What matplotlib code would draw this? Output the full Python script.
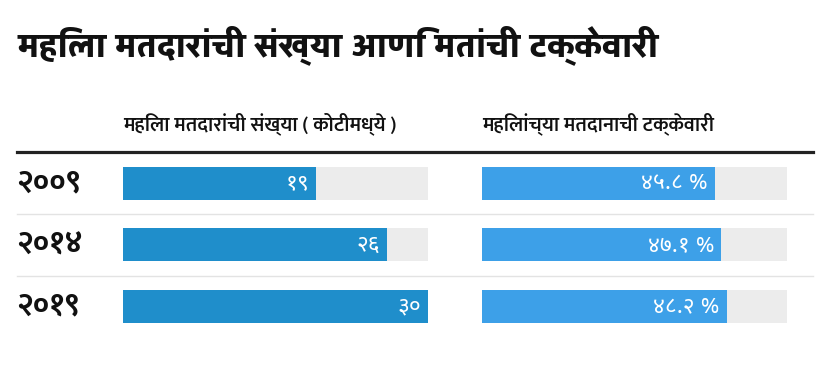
import matplotlib
matplotlib.use('Agg')
import matplotlib.pyplot as plt
from matplotlib.lines import Line2D
from matplotlib import transforms

years = ['२००९', '२०१४', '२०१९']
voters = [19, 26, 30]          # महिला मतदार (कोटी)
turnout = [45.8, 47.1, 48.2]   # मतदानाची टक्केवारी

title = 'महिला मतदारांची संख्या आणि मतांची टक्केवारी'
head_left = 'महिला मतदारांची संख्या ( कोटीमध्ये )'
head_right = 'महिलांच्या मतदानाची टक्केवारी'

deva = str.maketrans('0123456789', '०१२३४५६७८९')

W, H = 830, 370
fig = plt.figure(figsize=(W / 100, H / 100), dpi=100)
fig.patch.set_facecolor('white')

def fx(px):
    return px / W

def fy(px):
    return 1 - px / H

# bar panels
bot, top = fy(337), fy(152.5)
axl = fig.add_axes([fx(123), bot, fx(305), top - bot])
axr = fig.add_axes([fx(482), bot, fx(305), top - bot])

ypos = list(range(len(years)))
bh = 33 / 61.5

for ax, vals, vmax, col, fmt in [
        (axl, voters, 30, '#1f8ecb', lambda v: '%d' % v),
        (axr, turnout, 60, '#3da0e8', lambda v: '%.1f %%' % v)]:
    ax.barh(ypos, [vmax] * len(vals), height=bh, color='#ececec', zorder=1)
    ax.barh(ypos, vals, height=bh, color=col, zorder=2)
    for i, v in enumerate(vals):
        ax.annotate(fmt(v).translate(deva), (v, i), xytext=(-5, 0),
                    textcoords='offset points', ha='right', va='center',
                    color='white', fontsize=16.5,
                    family=['Noto Sans Devanagari', 'DejaVu Sans'], zorder=3)
    ax.set_xlim(0, vmax)
    ax.set_ylim(len(vals) - 0.5, -0.5)
    ax.axis('off')

# year labels
tr = transforms.blended_transform_factory(fig.transFigure, axl.transData)
for i, y in enumerate(years):
    axl.text(fx(16), i, y, transform=tr, ha='left', va='center',
             fontsize=22, weight='bold', family=['Mukta', 'DejaVu Sans'],
             color='#111111', clip_on=False)

# rules
fig.add_artist(Line2D([fx(17), fx(813)], [fy(152), fy(152)],
                      transform=fig.transFigure, color='#222222', lw=2.3))
for py in [214, 275.5]:
    fig.add_artist(Line2D([fx(17), fx(813)], [fy(py), fy(py)],
                          transform=fig.transFigure, color='#e3e3e3', lw=1))

# titles
fig.text(fx(17), fy(45), title, ha='left', va='center', fontsize=25,
         weight=900, family=['Yantramanav', 'DejaVu Sans'], color='#111111')
fig.text(fx(123), fy(124), head_left, ha='left', va='center', fontsize=14.5,
         weight='semibold', family=['Mukta', 'DejaVu Sans'], color='#111111')
fig.text(fx(482), fy(124), head_right, ha='left', va='center', fontsize=14.5,
         weight='semibold', family=['Mukta', 'DejaVu Sans'], color='#111111')

fig.savefig('out.png', dpi=100)
